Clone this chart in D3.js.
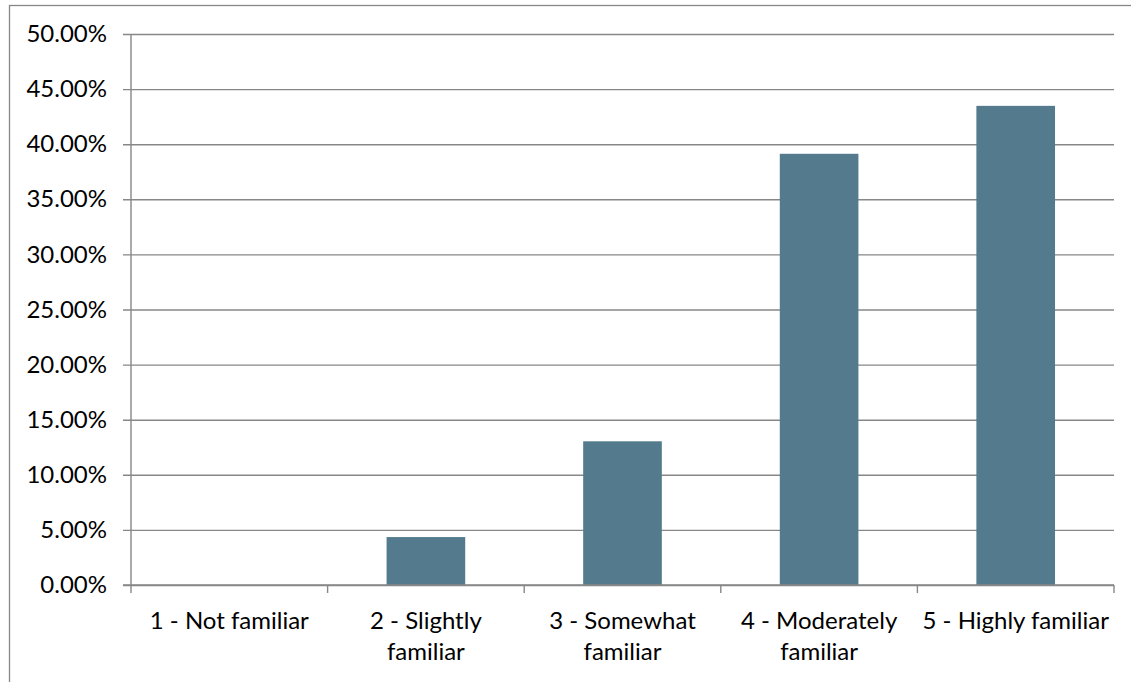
<!DOCTYPE html>
<html>
<head>
<meta charset="utf-8">
<script src="https://cdn.jsdelivr.net/npm/d3@7"></script>
<style>
  html, body { margin: 0; padding: 0; background: #fff; }
  svg { display: block; font-family: Lato, "Open Sans", sans-serif; }
</style>
</head>
<body>
<svg id="chart" width="1131" height="682"></svg>
<script>
// Familiarity ratings, share of respondents (%)
const categories = [
  "1 - Not familiar",
  "2 - Slightly familiar",
  "3 - Somewhat familiar",
  "4 - Moderately familiar",
  "5 - Highly familiar"
];
const values = [0, 4.35, 13.04, 39.13, 43.48];
const yTicks = [0, 5, 10, 15, 20, 25, 30, 35, 40, 45, 50];

const svg = d3.select("#chart");
const W = 1131, H = 682;
const plot = { left: 131, right: 1114, top: 34, bottom: 585 };
const axisColor = "#878787";
const barColor = "#537b8d";
const fontSize = 24;

// outer chart frame (runs off the right and bottom edges)
svg.append("rect")
  .attr("x", 9.5).attr("y", 5.5)
  .attr("width", W + 20).attr("height", H + 20)
  .attr("fill", "none")
  .attr("stroke", axisColor)
  .attr("stroke-width", 1.3);

const x = d3.scaleBand()
  .domain(categories)
  .range([plot.left, plot.right])
  .paddingInner(0.6)
  .paddingOuter(0.3);

const y = d3.scaleLinear()
  .domain([0, 50])
  .range([plot.bottom, plot.top]);

// horizontal gridlines with short tick stubs on the left
const yAxis = d3.axisLeft(y)
  .tickValues(yTicks)
  .tickSize(-(plot.right - plot.left))
  .tickPadding(24)
  .tickFormat(d => d.toFixed(2) + "%");

const gy = svg.append("g")
  .attr("transform", `translate(${plot.left},0)`)
  .call(yAxis);
gy.select(".domain").remove();
gy.selectAll(".tick line")
  .attr("x1", -8)
  .attr("stroke", axisColor)
  .attr("stroke-width", 1.4);
gy.selectAll(".tick text")
  .attr("font-size", fontSize)
  .attr("fill", "#000")
  .style("font-family", "Lato, 'Open Sans', sans-serif");

// vertical axis line
svg.append("line")
  .attr("x1", plot.left).attr("x2", plot.left)
  .attr("y1", plot.top).attr("y2", plot.bottom)
  .attr("stroke", axisColor)
  .attr("stroke-width", 1.4);

// bars
svg.append("g")
  .selectAll("rect")
  .data(categories.map((c, i) => ({ c, v: values[i] })))
  .join("rect")
  .attr("x", d => x(d.c))
  .attr("width", x.bandwidth())
  .attr("y", d => y(d.v))
  .attr("height", d => y(0) - y(d.v))
  .attr("fill", barColor);

// category axis: baseline plus ticks at the category boundaries
const step = x.step();
const boundaries = d3.range(categories.length + 1).map(i => plot.left + i * step);
const gx = svg.append("g");
gx.append("line")
  .attr("x1", plot.left - 8).attr("x2", plot.right)
  .attr("y1", plot.bottom).attr("y2", plot.bottom)
  .attr("stroke", axisColor)
  .attr("stroke-width", 1.4);
gx.selectAll("line.bt")
  .data(boundaries)
  .join("line")
  .attr("class", "bt")
  .attr("x1", d => d).attr("x2", d => d)
  .attr("y1", plot.bottom).attr("y2", plot.bottom + 8)
  .attr("stroke", axisColor)
  .attr("stroke-width", 1.4);

// category labels, wrapped to fit one category
const lineHeight = 31;
const maxWidth = 188;
const labels = gx.selectAll("text.cat")
  .data(categories)
  .join("text")
  .attr("class", "cat")
  .attr("text-anchor", "middle")
  .attr("font-size", fontSize)
  .attr("fill", "#000")
  .attr("transform", d => `translate(${x(d) + x.bandwidth() / 2},${plot.bottom + 44})`);

labels.each(function (d) {
  const t = d3.select(this);
  const words = d.split(" ");
  let line = [];
  let lines = [];
  const probe = t.append("tspan");
  words.forEach(w => {
    const test = line.concat(w).join(" ");
    probe.text(test);
    if (probe.node().getComputedTextLength() > maxWidth && line.length) {
      lines.push(line.join(" "));
      line = [w];
    } else {
      line.push(w);
    }
  });
  lines.push(line.join(" "));
  probe.remove();
  lines.forEach((l, i) => {
    t.append("tspan").attr("x", 0).attr("dy", i === 0 ? 0 : lineHeight).text(l);
  });
});
</script>
</body>
</html>
